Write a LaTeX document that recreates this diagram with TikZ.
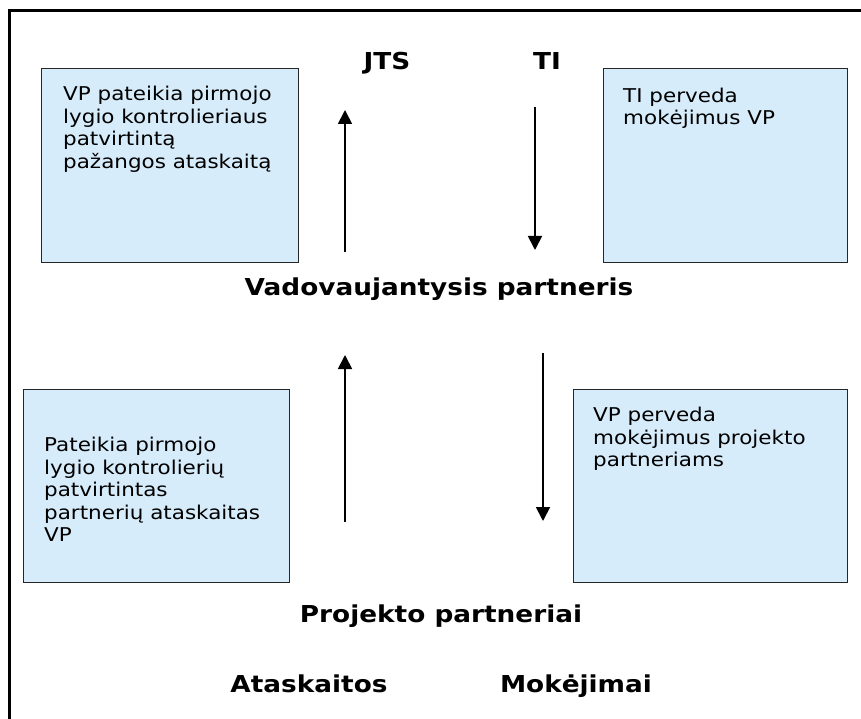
\documentclass[tikz,border=0pt]{standalone}
\usepackage{fontspec}
\setmainfont{DejaVu Sans}[FakeStretch=1.13]
\usetikzlibrary{positioning,arrows.meta}

\definecolor{boxblue}{RGB}{215,236,250}

\tikzset{
  infobox/.style={draw=black!85, line width=1.2pt, fill=boxblue, anchor=north west, inner sep=0pt},
  infotext/.style={inner sep=0pt, align=left, font=\fontsize{19}{22.5}\selectfont},
  heading/.style={anchor=base, inner sep=0pt, font=\fontsize{23.3}{27}\selectfont\bfseries},
  flow/.style={line width=1.8pt, -{Triangle[width=14pt,length=14pt]}}
}

\begin{document}
\begin{tikzpicture}[x=1pt, y=-1pt]
    \useasboundingbox (0,0) rectangle (861,719);

    % Frame (only top and left edges are in view)
    \draw[line width=3pt] (9,719) -- (9,10.5) -- (861,10.5);

    % Blue boxes
    \node[infobox, minimum width=257pt, minimum height=194pt] (vpbox) at (41,68) {};
    \node[infobox, minimum width=244pt, minimum height=194pt] (tibox) at (603,68) {};
    \node[infobox, minimum width=266pt, minimum height=193pt] (ppbox) at (23,389) {};
    \node[infobox, minimum width=274pt, minimum height=193pt] (paybox) at (573,389) {};

    % Box texts
    \node[infotext, below right=18pt and 22pt of vpbox.north west] (vptext)
        {VP pateikia pirmojo\\lygio kontrolieriaus\\patvirtintą\\pažangos ataskaitą};
    \node[infotext, below right=19.5pt and 20pt of tibox.north west] (titext)
        {TI perveda\\mokėjimus VP};
    \node[infotext, below right=48pt and 21pt of ppbox.north west] (pptext)
        {Pateikia pirmojo\\lygio kontrolierių\\patvirtintas\\partnerių ataskaitas\\VP};
    \node[infotext, below right=18pt and 20pt of paybox.north west] (paytext)
        {VP perveda\\mokėjimus projekto\\partneriams};

    % Bold labels
    \node[heading] (jts) at (387,70) {JTS};
    \node[heading] (ti) at (547,70) {TI};
    \node[heading] (lead) at (439,295) {Vadovaujantysis partneris};
    \node[heading] (partners) at (441,622) {Projekto partneriai};
    \node[heading] (reports) at (309,692) {Ataskaitos};
    \node[heading] (payments) at (576,692) {Mokėjimai};

    % Arrow ends
    \coordinate (upA) at (345,252);   \coordinate (upAtip) at (345,110);
    \coordinate (downA) at (535,107); \coordinate (downAtip) at (535,250);
    \coordinate (upB) at (345,522);   \coordinate (upBtip) at (345,355);
    \coordinate (downB) at (543,353); \coordinate (downBtip) at (543,521);

    % Arrows
    \foreach \from/\to in {upA/upAtip, downA/downAtip, upB/upBtip, downB/downBtip} {
        \draw[flow] (\from) -- (\to);
    };
\end{tikzpicture}
\end{document}
